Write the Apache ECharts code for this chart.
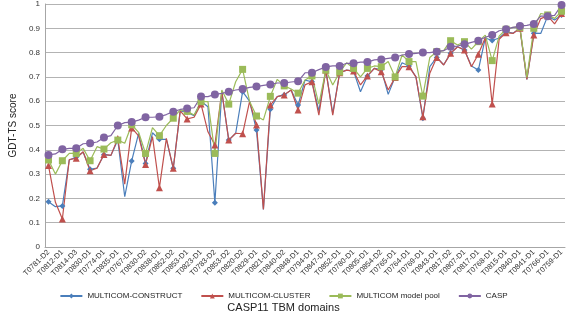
<!DOCTYPE html>
<html>
<head>
<meta charset="utf-8">
<script src="https://cdn.jsdelivr.net/npm/echarts@6/dist/echarts.min.js"></script>
<style>
  html, body { margin: 0; padding: 0; background: #fff; }
  #chart { width: 567px; height: 319px; }
</style>
</head>
<body>
<div id="chart"></div>
<script>
const categories = [
  "T0781-D2", "T0763-D1", "T0812-D1", "T0770-D1", "T0814-D3", "T0771-D1", "T0830-D1", "T0772-D1",
  "T0774-D1", "T0776-D1", "T0835-D1", "T0777-D1", "T0767-D1", "T0778-D1", "T0830-D2", "T0782-D1",
  "T0838-D1", "T0784-D1", "T0852-D2", "T0785-D1", "T0853-D1", "T0786-D1", "T0823-D1", "T0788-D1",
  "T0783-D2", "T0789-D1", "T0853-D2", "T0792-D1", "T0820-D2", "T0796-D1", "T0829-D1", "T0800-D1",
  "T0821-D1", "T0801-D1", "T0840-D2", "T0803-D1", "T0848-D1", "T0804-D1", "T0794-D1", "T0806-D1",
  "T0847-D1", "T0808-D1", "T0852-D1", "T0810-D1", "T0780-D1", "T0811-D1", "T0805-D1", "T0813-D1",
  "T0854-D2", "T0814-D1", "T0765-D1", "T0814-D2", "T0764-D1", "T0816-D1", "T0769-D1", "T0818-D1",
  "T0843-D1", "T0822-D1", "T0817-D2", "T0824-D1", "T0807-D1", "T0828-D1", "T0817-D1", "T0831-D1",
  "T0768-D1", "T0832-D1", "T0815-D1", "T0833-D1", "T0840-D1", "T0834-D1", "T0841-D1", "T0836-D1",
  "T0766-D1", "T0837-D1", "T0759-D1"
];

const construct = [
  0.186, 0.166, 0.169, 0.358, 0.37, 0.39, 0.32, 0.325, 0.38, 0.377,
  0.44, 0.207, 0.354, 0.468, 0.344, 0.47, 0.443, 0.443, 0.324, 0.56,
  0.555, 0.54, 0.60, 0.577, 0.182, 0.64, 0.44, 0.468, 0.639, 0.60,
  0.481, 0.155, 0.567, 0.619, 0.626, 0.646, 0.584, 0.687, 0.68, 0.56,
  0.728, 0.55, 0.717, 0.728, 0.724, 0.639, 0.704, 0.735, 0.73, 0.628,
  0.70, 0.758, 0.745, 0.70, 0.53, 0.742, 0.78, 0.75, 0.797, 0.824,
  0.811, 0.745, 0.728, 0.86, 0.85, 0.86, 0.885, 0.88, 0.90, 0.69,
  0.88, 0.879, 0.95, 0.934, 0.955
];

const cluster = [
  0.335, 0.184, 0.115, 0.36, 0.365, 0.392, 0.314, 0.324, 0.381, 0.377,
  0.447, 0.259, 0.49, 0.457, 0.34, 0.454, 0.244, 0.447, 0.324, 0.56,
  0.527, 0.534, 0.588, 0.474, 0.42, 0.64, 0.44, 0.468, 0.466, 0.598,
  0.502, 0.155, 0.584, 0.619, 0.626, 0.646, 0.564, 0.667, 0.68, 0.543,
  0.728, 0.543, 0.717, 0.728, 0.724, 0.667, 0.704, 0.735, 0.721, 0.646,
  0.698, 0.742, 0.742, 0.70, 0.536, 0.715, 0.78, 0.749, 0.797, 0.824,
  0.811, 0.742, 0.793, 0.861, 0.588, 0.855, 0.882, 0.879, 0.90, 0.69,
  0.872, 0.94, 0.951, 0.918, 0.961
];

const modelPool = [
  0.358, 0.30, 0.355, 0.385, 0.385, 0.406, 0.355, 0.413, 0.403, 0.429,
  0.44, 0.427, 0.503, 0.472, 0.385, 0.491, 0.458, 0.50, 0.53, 0.564,
  0.558, 0.543, 0.598, 0.598, 0.385, 0.646, 0.588, 0.68, 0.731, 0.60,
  0.539, 0.523, 0.62, 0.69, 0.663, 0.65, 0.633, 0.687, 0.704, 0.588,
  0.728, 0.667, 0.72, 0.758, 0.735, 0.70, 0.735, 0.745, 0.742, 0.763,
  0.70, 0.79, 0.763, 0.763, 0.621, 0.78, 0.804, 0.808, 0.849, 0.831,
  0.845, 0.814, 0.845, 0.872, 0.767, 0.868, 0.896, 0.904, 0.904, 0.698,
  0.90, 0.961, 0.955, 0.941, 0.97
];

const casp = [
  0.379, 0.383, 0.402, 0.406, 0.406, 0.425, 0.427, 0.432, 0.451, 0.458,
  0.50, 0.512, 0.514, 0.522, 0.534, 0.534, 0.536, 0.545, 0.557, 0.566,
  0.570, 0.573, 0.619, 0.619, 0.628, 0.632, 0.639, 0.646, 0.65, 0.657,
  0.66, 0.665, 0.669, 0.675, 0.675, 0.679, 0.682, 0.717, 0.717, 0.730,
  0.741, 0.745, 0.745, 0.756, 0.756, 0.761, 0.761, 0.770, 0.772, 0.776,
  0.78, 0.79, 0.794, 0.797, 0.80, 0.80, 0.804, 0.808, 0.824, 0.827,
  0.834, 0.842, 0.849, 0.863, 0.872, 0.89, 0.896, 0.904, 0.909, 0.912,
  0.918, 0.95, 0.95, 0.953, 0.996
];

const font = "Liberation Sans, Arial, sans-serif";

function lineSeries(name, data, color, symbol, size) {
  return {
    name: name,
    type: "line",
    data: data,
    symbol: symbol,
    symbolSize: size,
    lineStyle: { color: color, width: 1.2 },
    itemStyle: { color: color },
    emphasis: { disabled: true },
    animation: false
  };
}

const chart = echarts.init(document.getElementById("chart"));
chart.setOption({
  backgroundColor: "#fff",
  title: {
    text: "CASP11 TBM domains",
    left: "center",
    top: 297,
    textStyle: { fontFamily: font, fontSize: 11, fontWeight: "normal", color: "#222" }
  },
  legend: {
    top: 287,
    left: "center",
    itemWidth: 22,
    itemHeight: 6,
    itemGap: 18,
    textStyle: { fontFamily: font, fontSize: 8, color: "#222" },
    data: ["MULTICOM-CONSTRUCT", "MULTICOM-CLUSTER", "MULTICOM model pool", "CASP"]
  },
  grid: { left: 34, right: 2, top: 4, bottom: 72 },
  xAxis: {
    type: "category",
    data: categories,
    boundaryGap: true,
    axisLine: { lineStyle: { color: "#a6a6a6" } },
    axisTick: { interval: 0, length: 3, lineStyle: { color: "#a6a6a6" } },
    axisLabel: {
      interval: 1,
      rotate: 45,
      fontFamily: font,
      fontSize: 7.5,
      color: "#333",
      margin: 4
    }
  },
  yAxis: {
    type: "value",
    min: 0,
    max: 1,
    interval: 0.1,
    name: "GDT-TS score",
    nameLocation: "middle",
    nameGap: 26,
    nameTextStyle: { fontFamily: font, fontSize: 10, color: "#222" },
    axisLine: { show: true, lineStyle: { color: "#a6a6a6" } },
    axisTick: { show: false },
    splitLine: { lineStyle: { color: "#b3b3b3", width: 1 } },
    axisLabel: {
      fontFamily: font,
      fontSize: 8,
      color: "#333",
      margin: 5,
      formatter: function (v) { return String(Math.round(v * 10) / 10); }
    }
  },
  series: [
    lineSeries("MULTICOM-CONSTRUCT", construct, "#4a7ebb", "diamond", 6),
    lineSeries("MULTICOM-CLUSTER", cluster, "#c0504d", "triangle", 7),
    lineSeries("MULTICOM model pool", modelPool, "#9bbb59", "rect", 7),
    lineSeries("CASP", casp, "#8064a2", "circle", 8)
  ]
});
</script>
</body>
</html>
